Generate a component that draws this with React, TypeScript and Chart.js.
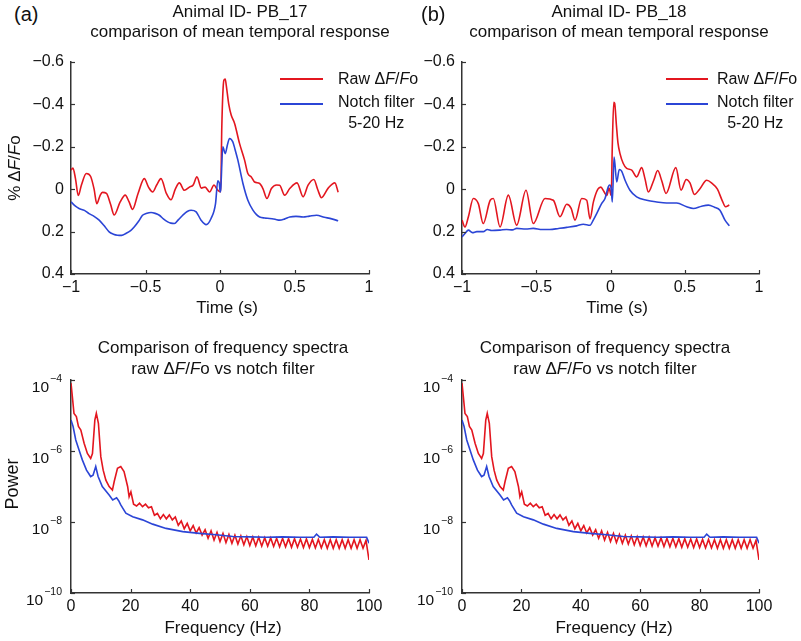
import React, { useEffect, useRef } from 'react';
import { Chart, registerables } from 'chart.js';

Chart.register(...registerables);

const RED = '#e3161f';
const BLUE = '#2b45d6';
const AXIS = '#333333';
const TEXT = '#111111';
const FONT = '"Liberation Sans", Arial, Helvetica, sans-serif';

// ---------- Panel (a) temporal response, PB_17 ----------
const rawA_t = [-1.0, -0.987, -0.97, -0.951, -0.93, -0.897, -0.868, -0.845, -0.827, -0.805, -0.789, -0.762, -0.735, -0.71, -0.67, -0.636, -0.61, -0.587, -0.55, -0.508, -0.48, -0.452, -0.425, -0.396, -0.36, -0.329, -0.3, -0.273, -0.239, -0.205, -0.18, -0.155, -0.125, -0.1, -0.07, -0.04, -0.02, -0.005, 0.005, 0.012, 0.026, 0.035, 0.042, 0.059, 0.075, 0.098, 0.131, 0.165, 0.187, 0.21, 0.232, 0.266, 0.288, 0.315, 0.345, 0.38, 0.4, 0.434, 0.468, 0.517, 0.558, 0.591, 0.63, 0.655, 0.681, 0.726, 0.771, 0.793];
const rawA_v = [-0.09, -0.1, -0.05, 0.03, -0.02, -0.074, -0.06, 0.0, 0.068, 0.03, 0.015, 0.02, 0.07, 0.122, 0.06, 0.028, 0.06, 0.095, 0.02, -0.05, -0.01, 0.013, -0.02, -0.05, 0.02, 0.05, 0.0, -0.03, 0.005, -0.01, -0.02, -0.058, -0.005, -0.01, 0.013, -0.02, 0.0, 0.01, 0.012, -0.29, -0.514, -0.52, -0.49, -0.4, -0.35, -0.31, -0.216, -0.137, -0.074, -0.058, -0.034, -0.027, -0.003, 0.044, -0.003, -0.02, -0.019, 0.028, -0.003, -0.03, 0.036, -0.019, -0.046, 0.0, 0.04, -0.005, -0.03, 0.014];
const notchA_t = [-1.0, -0.97, -0.946, -0.91, -0.879, -0.845, -0.811, -0.78, -0.744, -0.715, -0.688, -0.66, -0.632, -0.6, -0.576, -0.545, -0.52, -0.49, -0.463, -0.435, -0.407, -0.38, -0.351, -0.33, -0.306, -0.28, -0.25, -0.22, -0.194, -0.16, -0.127, -0.093, -0.06, -0.03, -0.015, -0.005, 0.001, 0.005, 0.019, 0.035, 0.05, 0.064, 0.086, 0.1, 0.12, 0.154, 0.187, 0.221, 0.245, 0.266, 0.3, 0.333, 0.37, 0.4, 0.435, 0.468, 0.51, 0.558, 0.6, 0.648, 0.7, 0.75, 0.793];
const notchA_v = [0.06, 0.08, 0.091, 0.1, 0.115, 0.128, 0.146, 0.17, 0.201, 0.212, 0.217, 0.218, 0.209, 0.195, 0.178, 0.15, 0.123, 0.113, 0.11, 0.114, 0.123, 0.14, 0.154, 0.16, 0.162, 0.145, 0.123, 0.105, 0.099, 0.107, 0.146, 0.167, 0.138, 0.068, -0.04, -0.03, 0.013, 0.0, -0.2, -0.168, -0.21, -0.239, -0.223, -0.19, -0.137, -0.027, 0.052, 0.099, 0.12, 0.131, 0.136, 0.138, 0.142, 0.146, 0.14, 0.131, 0.128, 0.131, 0.127, 0.123, 0.132, 0.14, 0.149];

// ---------- Panel (b) temporal response, PB_18 ----------
const rawB_t = [-1.0, -0.98, -0.957, -0.924, -0.89, -0.857, -0.81, -0.789, -0.744, -0.688, -0.632, -0.569, -0.52, -0.441, -0.385, -0.34, -0.295, -0.265, -0.239, -0.194, -0.16, -0.138, -0.115, -0.085, -0.065, -0.045, -0.025, -0.01, 0.005, 0.012, 0.022, 0.028, 0.04, 0.05, 0.064, 0.086, 0.109, 0.143, 0.176, 0.21, 0.232, 0.255, 0.29, 0.318, 0.345, 0.374, 0.44, 0.475, 0.51, 0.535, 0.565, 0.6, 0.648, 0.68, 0.72, 0.75, 0.775, 0.8];
const rawB_v = [0.146, 0.178, 0.13, 0.044, 0.068, 0.162, 0.052, 0.044, 0.178, 0.028, 0.17, 0.005, 0.162, 0.044, 0.052, 0.13, 0.071, 0.09, 0.146, 0.044, 0.052, 0.14, 0.06, 0.0, -0.01, 0.01, 0.03, -0.005, 0.03, -0.2, -0.41, -0.405, -0.3, -0.22, -0.168, -0.121, -0.098, -0.09, -0.058, -0.102, -0.05, 0.013, -0.04, -0.088, -0.04, 0.02, -0.102, 0.005, -0.046, -0.03, 0.025, 0.0, -0.042, -0.03, 0.0, 0.05, 0.083, 0.075];
const notchB_t = [-1.0, -0.98, -0.957, -0.93, -0.9, -0.857, -0.83, -0.8, -0.744, -0.7, -0.66, -0.632, -0.57, -0.52, -0.46, -0.408, -0.35, -0.295, -0.228, -0.183, -0.138, -0.116, -0.093, -0.06, -0.037, -0.015, -0.005, 0.005, 0.012, 0.024, 0.042, 0.059, 0.075, 0.098, 0.131, 0.176, 0.244, 0.311, 0.378, 0.446, 0.513, 0.558, 0.614, 0.659, 0.7, 0.737, 0.771, 0.8];
const notchB_v = [0.225, 0.209, 0.193, 0.205, 0.2, 0.2, 0.19, 0.195, 0.193, 0.19, 0.192, 0.185, 0.188, 0.185, 0.19, 0.19, 0.185, 0.18, 0.173, 0.165, 0.17, 0.146, 0.115, 0.068, 0.044, -0.011, -0.02, 0.0, 0.06, -0.152, -0.034, -0.093, -0.085, -0.042, 0.005, 0.036, 0.052, 0.06, 0.065, 0.065, 0.083, 0.091, 0.08, 0.075, 0.085, 0.099, 0.146, 0.173];

// ---------- Frequency spectra (log10 of power), same in both lower panels ----------
const rawSpec_f = [0, 0.45, 1.0, 1.8, 2.5, 3.3, 4.4, 5.5, 6.6, 7.2, 8.0, 8.5, 9.2, 10, 10.8, 11.7, 12.8, 13.9, 14.5, 15.6, 16.7, 17.8, 19.0, 19.5, 20.1, 21, 22, 23, 24, 25, 26, 27, 28, 29, 30, 31, 32, 33, 34, 35, 36, 37, 38, 39, 40, 41, 42, 43, 44, 45, 46, 47, 48, 49, 50, 51, 52, 53, 54, 55, 56, 57, 58, 59, 60, 61, 62, 63, 64, 65, 66, 67, 68, 69, 70, 71, 72, 73, 74, 75, 76, 77, 78, 79, 80, 81, 82, 83, 84, 85, 86, 87, 88, 89, 90, 91, 92, 93, 94, 95, 96, 97, 98, 99, 100];
const rawSpec_log = [-4.09, -4.47, -4.94, -5.03, -5.31, -5.41, -5.78, -6.07, -6.21, -6.07, -5.13, -4.94, -5.22, -6.16, -6.54, -6.82, -7.0, -7.1, -6.86, -6.49, -6.44, -6.58, -7.0, -7.29, -7.15, -7.5, -7.55, -7.47, -7.57, -7.5, -7.6, -7.57, -7.81, -7.76, -7.91, -7.79, -7.91, -7.8, -7.94, -7.86, -8.09, -7.97, -8.19, -8.04, -8.25, -8.1, -8.31, -8.16, -8.37, -8.22, -8.46, -8.25, -8.51, -8.29, -8.55, -8.32, -8.58, -8.35, -8.6, -8.37, -8.62, -8.39, -8.64, -8.41, -8.66, -8.42, -8.67, -8.43, -8.68, -8.44, -8.68, -8.45, -8.69, -8.46, -8.7, -8.46, -8.7, -8.47, -8.71, -8.47, -8.71, -8.48, -8.72, -8.48, -8.72, -8.49, -8.73, -8.49, -8.73, -8.5, -8.74, -8.5, -8.74, -8.5, -8.74, -8.5, -8.74, -8.5, -8.74, -8.5, -8.74, -8.5, -8.74, -8.52, -9.07];
const notchSpec_f = [0, 0.7, 1.6, 2.7, 3.8, 5.2, 6.6, 7.4, 8.3, 9.1, 10.5, 12.8, 14.0, 15.3, 16.0, 16.7, 18.4, 20.7, 24, 27.4, 31.9, 37.5, 43.1, 48.7, 54.3, 60, 65.5, 71, 76.8, 81.5, 82.4, 83.5, 88, 93.6, 99.2, 100];
const notchSpec_log = [-5.13, -5.31, -5.69, -5.97, -6.25, -6.54, -6.72, -6.68, -6.44, -6.72, -7.0, -7.24, -7.38, -7.32, -7.4, -7.52, -7.75, -7.85, -7.94, -8.06, -8.18, -8.27, -8.32, -8.36, -8.41, -8.42, -8.43, -8.42, -8.43, -8.43, -8.34, -8.43, -8.42, -8.43, -8.43, -8.6];

// ---------- Axis ticks ----------
const timeTicks = [-1, -0.5, 0, 0.5, 1];
const timeTickLabels = ['\u22121', '\u22120.5', '0', '0.5', '1'];
const dffTicks = [-0.6, -0.4, -0.2, 0, 0.2, 0.4];
const dffTickLabels = ['\u22120.6', '\u22120.4', '\u22120.2', '0', '0.2', '0.4'];
const freqTicks = [0, 20, 40, 60, 80, 100];
const freqTickLabels = ['0', '20', '40', '60', '80', '100'];
const powerTicks = [1e-10, 1e-8, 1e-6, 1e-4];
const powerTickBase = '10';
const powerTickExponents = ['\u221210', '\u22128', '\u22126', '\u22124'];

const inwardTicks = {
  id: 'inwardTicks',
  afterDatasetsDraw(chart: any) {
    const { ctx, chartArea } = chart;
    const xs = chart.scales.x;
    const ys = chart.scales.y;
    ctx.save();
    ctx.strokeStyle = AXIS;
    ctx.lineWidth = 1.2;
    xs.ticks.forEach((t: any) => {
      const p = Math.round(xs.getPixelForValue(t.value)) + 0.5;
      ctx.beginPath();
      ctx.moveTo(p, chartArea.bottom);
      ctx.lineTo(p, chartArea.bottom - 4);
      ctx.stroke();
    });
    ys.ticks.forEach((t: any) => {
      const p = Math.round(ys.getPixelForValue(t.value)) + 0.5;
      ctx.beginPath();
      ctx.moveTo(chartArea.left, p);
      ctx.lineTo(chartArea.left + 4, p);
      ctx.stroke();
    });
    ctx.restore();
  },
};

// tick labels of the logarithmic power axis: "10" with a raised exponent
const powerLabels = {
  id: 'powerLabels',
  afterDraw(chart: any) {
    const ys = chart.scales.y;
    if (ys.type !== 'logarithmic') return;
    const { ctx, chartArea } = chart;
    ctx.save();
    ctx.fillStyle = TEXT;
    ctx.textAlign = 'left';
    ctx.textBaseline = 'alphabetic';
    powerTicks.forEach((v, i) => {
      const p = ys.getPixelForValue(v);
      const exp = powerTickExponents[i];
      ctx.font = '10.5px ' + FONT;
      const ew = ctx.measureText(exp).width;
      ctx.font = '15.5px ' + FONT;
      const bw = ctx.measureText(powerTickBase).width;
      const right = chartArea.left - 9;
      ctx.fillText(powerTickBase, right - ew - bw - 1, p + 12);
      ctx.font = '10.5px ' + FONT;
      ctx.fillText(exp, right - ew, p + 2);
    });
    ctx.restore();
  },
};

type Series = { t: number[]; v: number[]; color: string };

type PanelProps = {
  left: number;
  top: number;
  width: number;
  height: number;
  pad: { left: number; right: number; top: number; bottom: number };
  yWidth: number;
  xHeight: number;
  smooth: boolean;
  series: Series[];
  x: { min: number; max: number; ticks: number[]; labels: string[]; padding: number };
  y: { type: string; min: number; max: number; ticks: number[]; labels: string[] | null; reverse: boolean; padding: number };
};

function Panel(props: PanelProps) {
  const ref = useRef<HTMLCanvasElement | null>(null);
  useEffect(() => {
    if (!ref.current) return;
    const tickFont = { family: FONT, size: 16 };
    const yLabels = props.y.labels;
    const chart = new Chart(ref.current, {
      type: 'line',
      data: {
        datasets: props.series.map((s) => ({
          data: s.t.map((x, i) => ({ x, y: s.v[i] })),
          borderColor: s.color,
          borderWidth: 1.6,
          pointRadius: 0,
          tension: props.smooth ? 0.4 : 0,
          cubicInterpolationMode: props.smooth ? 'monotone' : 'default',
          fill: false,
        })),
      },
      options: {
        responsive: false,
        maintainAspectRatio: false,
        animation: false,
        events: [],
        layout: { padding: props.pad },
        plugins: { legend: { display: false }, title: { display: false }, tooltip: { enabled: false } },
        scales: {
          x: {
            type: 'linear',
            min: props.x.min,
            max: props.x.max,
            afterBuildTicks: (s: any) => {
              s.ticks = props.x.ticks.map((v) => ({ value: v }));
            },
            afterFit: (s: any) => {
              s.height = props.xHeight;
            },
            ticks: {
              callback: (_v: any, i: number) => props.x.labels[i],
              font: tickFont,
              color: TEXT,
              padding: props.x.padding,
              maxRotation: 0,
              autoSkip: false,
            },
            grid: { display: true, drawOnChartArea: false, drawTicks: false },
            border: { display: true, color: AXIS, width: 1.5 },
          },
          y: {
            type: props.y.type as any,
            min: props.y.min,
            max: props.y.max,
            reverse: props.y.reverse,
            afterBuildTicks: (s: any) => {
              s.ticks = props.y.ticks.map((v) => ({ value: v }));
            },
            afterFit: (s: any) => {
              s.width = props.yWidth;
            },
            ticks: {
              display: !!yLabels,
              callback: (_v: any, i: number) => (yLabels ? yLabels[i] : ''),
              font: tickFont,
              color: TEXT,
              padding: props.y.padding,
              autoSkip: false,
            },
            grid: { display: true, drawOnChartArea: false, drawTicks: false },
            border: { display: true, color: AXIS, width: 1.5 },
          },
        },
      } as any,
      plugins: [inwardTicks as any, powerLabels as any],
    });
    return () => chart.destroy();
  }, []);
  return (
    <canvas
      ref={ref}
      width={props.width}
      height={props.height}
      style={{ position: 'absolute', left: props.left, top: props.top, width: props.width, height: props.height, display: 'block' }}
    />
  );
}

const base: React.CSSProperties = {
  position: 'absolute',
  fontFamily: FONT,
  color: TEXT,
  whiteSpace: 'nowrap',
  margin: 0,
};

function Centered({ cx, top, size, lh, lines }: { cx: number; top: number; size: number; lh: number; lines: React.ReactNode[] }) {
  return (
    <div style={{ ...base, left: cx - 200, width: 400, top, fontSize: size, lineHeight: lh + 'px', textAlign: 'center' }}>
      {lines.map((l, i) => (
        <div key={i}>{l}</div>
      ))}
    </div>
  );
}

function Legend({ lineLeft, lineWidth, textLeft }: { lineLeft: number; lineWidth: number; textLeft: number }) {
  return (
    <>
      <div style={{ position: 'absolute', left: lineLeft, top: 78.25, width: lineWidth, height: 1.5, background: RED }} />
      <div style={{ position: 'absolute', left: lineLeft, top: 103.25, width: lineWidth, height: 1.5, background: BLUE }} />
      <div style={{ ...base, left: textLeft, top: 69, fontSize: 16, lineHeight: '20px' }}>
        Raw Δ<i>F</i>/<i>F</i>o
      </div>
      <div style={{ ...base, left: textLeft, top: 91, fontSize: 16, lineHeight: '21px', textAlign: 'center' }}>
        <div>Notch filter</div>
        <div>5-20 Hz</div>
      </div>
    </>
  );
}

export default function App() {
  const topX = { min: -1, max: 1, ticks: timeTicks, labels: timeTickLabels, padding: 4 };
  const topY = { type: 'linear', min: -0.6, max: 0.4, ticks: dffTicks, labels: dffTickLabels, reverse: true, padding: 7 };
  const botX = { min: 0, max: 100, ticks: freqTicks, labels: freqTickLabels, padding: 3.5 };
  const botY = { type: 'logarithmic', min: 1e-10, max: 1e-4, ticks: powerTicks, labels: null, reverse: false, padding: 8 };
  const rawSpecPow = rawSpec_log.map((e) => Math.pow(10, e));
  const notchSpecPow = notchSpec_log.map((e) => Math.pow(10, e));
  const spectra: Series[] = [
    { t: notchSpec_f, v: notchSpecPow, color: BLUE },
    { t: rawSpec_f, v: rawSpecPow, color: RED },
  ];
  const dffLabel = (
    <span>
      % Δ<i>F</i>/<i>F</i>o
    </span>
  );
  const specTitle2 = (
    <span>
      raw Δ<i>F</i>/<i>F</i>o vs notch filter
    </span>
  );
  return (
    <div style={{ position: 'absolute', left: 0, top: 0, width: 801, height: 641, background: '#ffffff', overflow: 'hidden' }}>
      <Panel
        left={0}
        top={40}
        width={400}
        height={262}
        pad={{ left: 0, right: 31, top: 22, bottom: 0 }}
        yWidth={71}
        xHeight={28}
        smooth={true}
        series={[
          { t: notchA_t, v: notchA_v, color: BLUE },
          { t: rawA_t, v: rawA_v, color: RED },
        ]}
        x={topX}
        y={topY}
      />
      <Panel
        left={400}
        top={40}
        width={400}
        height={262}
        pad={{ left: 0, right: 41, top: 22, bottom: 0 }}
        yWidth={62}
        xHeight={28}
        smooth={true}
        series={[
          { t: notchB_t, v: notchB_v, color: BLUE },
          { t: rawB_t, v: rawB_v, color: RED },
        ]}
        x={topX}
        y={topY}
      />
      <Panel
        left={0}
        top={330}
        width={400}
        height={300}
        pad={{ left: 0, right: 31, top: 50, bottom: 0 }}
        yWidth={71}
        xHeight={37}
        smooth={false}
        series={spectra}
        x={botX}
        y={botY}
      />
      <Panel
        left={400}
        top={330}
        width={400}
        height={300}
        pad={{ left: 0, right: 41, top: 50, bottom: 0 }}
        yWidth={62}
        xHeight={37}
        smooth={false}
        series={spectra}
        x={botX}
        y={botY}
      />

      <div style={{ ...base, left: 14, top: 3, fontSize: 20, lineHeight: '22px' }}>(a)</div>
      <div style={{ ...base, left: 421, top: 3, fontSize: 20, lineHeight: '22px' }}>(b)</div>

      <Centered cx={240} top={2} size={17} lh={20} lines={['Animal ID- PB_17', 'comparison of mean temporal response']} />
      <Centered cx={619} top={2} size={17} lh={20} lines={['Animal ID- PB_18', 'comparison of mean temporal response']} />

      <Legend lineLeft={280} lineWidth={43} textLeft={338} />
      <Legend lineLeft={666} lineWidth={42} textLeft={717} />

      <Centered cx={227} top={298} size={17} lh={20} lines={['Time (s)']} />
      <Centered cx={617} top={298} size={17} lh={20} lines={['Time (s)']} />

      <Centered cx={223} top={337} size={17} lh={21} lines={['Comparison of frequency spectra', specTitle2]} />
      <Centered cx={605} top={337} size={17} lh={21} lines={['Comparison of frequency spectra', specTitle2]} />

      <Centered cx={223} top={618} size={17} lh={20} lines={['Frequency (Hz)']} />
      <Centered cx={614} top={618} size={17} lh={20} lines={['Frequency (Hz)']} />

      <div style={{ ...base, left: 15, top: 168, fontSize: 17, lineHeight: '20px', transform: 'translate(-50%, -50%) rotate(-90deg)' }}>
        {dffLabel}
      </div>
      <div style={{ ...base, left: 12, top: 484, fontSize: 18, lineHeight: '20px', transform: 'translate(-50%, -50%) rotate(-90deg)' }}>
        Power
      </div>
    </div>
  );
}
